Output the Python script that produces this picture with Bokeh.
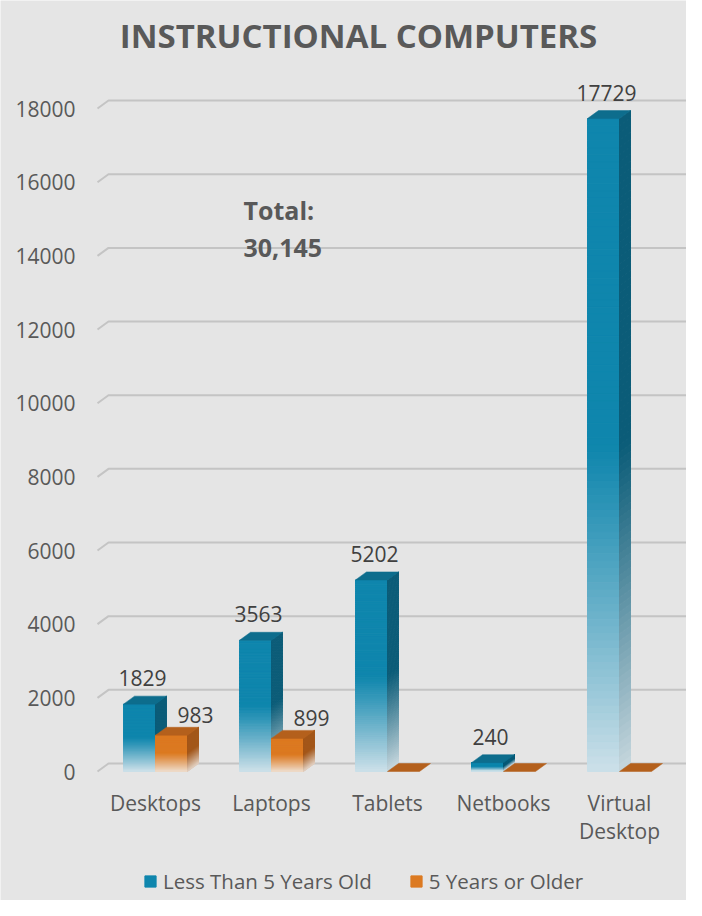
from bokeh.plotting import figure
from bokeh.models import Range1d, Legend, LegendItem, ColumnDataSource
from bokeh.core.properties import value
from bokeh.embed import file_html
from bokeh.resources import INLINE

# ---------------- data ----------------
categories = ["Desktops", "Laptops", "Tablets", "Netbooks", "Virtual\nDesktop"]
less_than_5 = [1829, 3563, 5202, 240, 17729]
five_or_older = [983, 899, 0, 0, 0]
y_ticks = [0, 2000, 4000, 6000, 8000, 10000, 12000, 14000, 16000, 18000]
series_names = ["Less Than 5 Years Old", "5 Years or Older"]
title_text = "INSTRUCTIONAL COMPUTERS"
total_text = "Total:\n30,145"

# ---------------- geometry / style ----------------
W, H = 686, 900
PX_X = 116.0          # px per category
PX_Y = 0.03683        # px per unit
X0, Y0 = 155.0, 771.0 # figure px of (cat 0, value 0)
BW = 32 / PX_X        # bar width
DX = 11 / PX_X        # depth offset x
DY = 8 / PX_Y         # depth offset y
XL, XR = -0.5, (690 - X0) / PX_X
FONT = "Open Sans"
TXT = "#595959"
N = 90

p = figure(width=W, height=H, output_backend="svg", toolbar_location=None,
           x_axis_type=None, y_axis_type=None,
           x_range=Range1d(-X0 / PX_X, (W - X0) / PX_X),
           y_range=Range1d(-(H - Y0) / PX_Y, Y0 / PX_Y),
           min_border=0, background_fill_color="#e5e5e5",
           border_fill_color="#e5e5e5", outline_line_color=None)


def hex2rgb(h):
    h = h.lstrip("#")
    return tuple(int(h[i:i + 2], 16) for i in (0, 2, 4))


def mix(c1, c2, t):
    a, b = hex2rgb(c1), hex2rgb(c2)
    return "#%02x%02x%02x" % tuple(int(round(a[i] + (b[i] - a[i]) * t)) for i in range(3))


def fade(t):
    # t: 0 bottom .. 1 top
    if t >= 0.5:
        return 0.0
    return ((0.5 - t) / 0.5) ** 1.1 * 0.92


# gridlines (back wall)
p.multi_line(xs=[[XL, XL + DX, XR] for v in y_ticks],
             ys=[[v, v + DY, v + DY] for v in y_ticks],
             line_color="#c4c4c4", line_width=2)


def draw_series(vals, left_off, front, side, top, light, light_side):
    fl, fr, fb, ft, fc = [], [], [], [], []
    sx, sy, sc = [], [], []
    tx, ty = [], []
    for i, v in enumerate(vals):
        x0 = i + left_off
        x1 = x0 + BW
        if v > 0:
            for k in range(N - 1, -1, -1):
                b = v * k / N
                t_ = v * (k + 1) / N
                f = fade((k + 0.5) / N)
                fl.append(x0); fr.append(x1); fb.append(b); ft.append(t_)
                fc.append(mix(front, light, f))
                sx.append([x1, x1 + DX, x1 + DX, x1])
                sy.append([b, b + DY, t_ + DY, t_])
                sc.append(mix(side, light_side, f))
        tx.append([x0, x0 + DX, x1 + DX, x1])
        ty.append([v, v + DY, v + DY, v])
    src = ColumnDataSource(dict(left=fl, right=fr, bottom=fb, top=ft, color=fc))
    r = p.quad(left="left", right="right", bottom="bottom", top="top", source=src,
               fill_color="color", line_color="color", line_width=1)
    p.patches(xs=sx, ys=sy, fill_color=sc, line_color=sc, line_width=1)
    p.patches(xs=tx, ys=ty, fill_color=top, line_color=top, line_width=0.5)
    return r


r_blue = draw_series(less_than_5, -BW, "#0f86ad", "#0b5c78", "#0d6d8d", "#dde8ee", "#d6e1e6")
r_orange = draw_series(five_or_older, 0.0, "#dc7a22", "#a3571a", "#b4601c", "#efe2d6", "#e6d8cc")

# tick labels
p.text(x=[(75 - X0) / PX_X for v in y_ticks], y=y_ticks,
       text=[str(v) for v in y_ticks], text_align="right", text_baseline="middle",
       text_font=value(FONT), text_font_size="21px", text_color=TXT)

# category labels
p.text(x=list(range(len(categories))), y=[0] * len(categories), text=categories,
       y_offset=17, text_align="center", text_baseline="top", text_line_height=1.0,
       text_font=value(FONT), text_font_size="21px", text_color=TXT)

# value labels
bi = [i for i, v in enumerate(less_than_5) if v > 0]
p.text(x=[i - BW / 2 for i in bi], y=[less_than_5[i] for i in bi],
       text=[str(less_than_5[i]) for i in bi], x_offset=3, y_offset=-26,
       text_align="center", text_baseline="middle",
       text_font=value(FONT), text_font_size="21px", text_color="#404040")
oi = [i for i, v in enumerate(five_or_older) if v > 0]
p.text(x=[i + BW / 2 for i in oi], y=[five_or_older[i] for i in oi],
       text=[str(five_or_older[i]) for i in oi], x_offset=24, y_offset=-20,
       text_align="center", text_baseline="middle",
       text_font=value(FONT), text_font_size="21px", text_color="#404040")

# title
p.text(x=[(358 - X0) / PX_X], y=[(Y0 - 35) / PX_Y], text=[title_text],
       text_align="center", text_baseline="middle", text_font=value(FONT),
       text_font_size="33px", text_font_style="bold", text_color=TXT)

# total annotation
p.text(x=[(243 - X0) / PX_X], y=[(Y0 - 192) / PX_Y], text=[total_text],
       text_align="left", text_baseline="top", text_line_height=1.1,
       text_font=value(FONT), text_font_size="25px", text_font_style="bold",
       text_color=TXT)

legend = Legend(items=[LegendItem(label=series_names[0], renderers=[r_blue], index=0),
                       LegendItem(label=series_names[1], renderers=[r_orange], index=0)],
                orientation="horizontal", location=(143, 5), padding=0, margin=0,
                spacing=37, label_standoff=6, glyph_width=14, glyph_height=14,
                label_text_font=FONT, label_text_font_size="20.5px",
                label_text_color=TXT, background_fill_alpha=0,
                border_line_alpha=0)
p.add_layout(legend, "center")

open("out.html", "w").write(file_html(p, INLINE))
